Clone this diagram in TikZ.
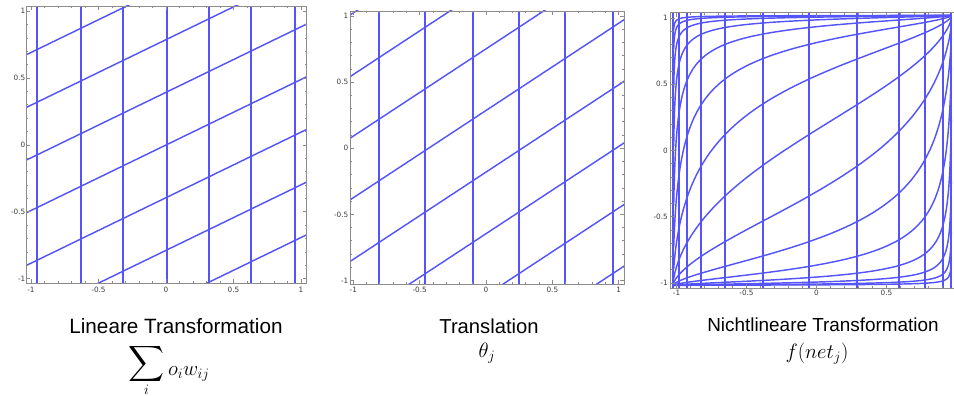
\documentclass[tikz,border=0pt]{standalone}
\usepackage{graphicx}
\usepackage{fontspec}
\setmainfont{Liberation Sans}
\newfontfamily\tickfont{DejaVu Sans}
\definecolor{lineblue}{RGB}{84,84,250}
\definecolor{framegray}{RGB}{140,140,140}
\definecolor{ticktext}{RGB}{60,60,60}
\tikzset{
  gl/.style={draw=lineblue,line width=1.45pt},
  vl/.style={draw=lineblue,line width=1.9pt},
  fr/.style={draw=framegray,line width=0.8pt},
  ticklbl/.style={font=\tickfont\fontsize{7.3}{8}\selectfont,text=ticktext,inner sep=0pt},
  caption/.style={font=\fontsize{20}{24}\selectfont,inner sep=0pt,anchor=base},
}
% frame with inward ticks: left,right,top,bottom, x0,xs, y0,ys
\newcommand\myframe[8]{%
  \draw[fr] (#1,#3) rectangle (#2,#4);
  \foreach \i in {-10,...,10}{%
    \draw[fr] ({#5+#6*\i/10},#4) -- ++(0,-2);
    \draw[fr] ({#5+#6*\i/10},#3) -- ++(0,2);
    \draw[fr] (#1,{#7-#8*\i/10}) -- ++(2,0);
    \draw[fr] (#2,{#7-#8*\i/10}) -- ++(-2,0);
  }%
  \foreach \i in {-2,...,2}{%
    \draw[fr] ({#5+#6*\i/2},#4) -- ++(0,-4);
    \draw[fr] ({#5+#6*\i/2},#3) -- ++(0,4);
    \draw[fr] (#1,{#7-#8*\i/2}) -- ++(4,0);
    \draw[fr] (#2,{#7-#8*\i/2}) -- ++(-4,0);
  }%
}
\newcommand\bigsum{\mathop{\raisebox{6pt}{$\vcenter{\hbox{\scalebox{2.5}{$\displaystyle\sum$}}}$}}\limits}
\begin{document}
\begin{tikzpicture}[x=1pt,y=-1pt]
\useasboundingbox (0,0) rectangle (954,396);

% ---------- plot 1: linear transformation ----------
\begin{scope}
  \clip (26,6) rectangle (306.7,283.3);
  \foreach \X in {37,81,123,167,209,251,295}
    \draw[vl] (\X,6) -- (\X,283.3);
  \foreach \j in {-3,...,3}
    \draw[gl] (26,{145-133.7*(0.49*(-140)/135+0.394*\j)}) -- (307,{145-133.7*(0.49*141/135+0.394*\j)});
\end{scope}
\myframe{26}{306.7}{6}{283.3}{166}{135}{145}{133.7}
\foreach \v/\t [count=\n] in {-1/-1,-0.5/-0.5,0/0,0.5/0.5,1/1}{
  \node[ticklbl] (pax\n) at ({166+135*\v},290) {\t};
  \node[ticklbl,anchor=east] (pay\n) at (25.5,{145-133.7*\v}) {\t};
}

% ---------- plot 2: translation ----------
\begin{scope}
  \clip (350,11) rectangle (624,284);
  \foreach \X in {379,425,473,519,565,613}
    \draw[vl] (\X,11) -- (\X,284);
  \foreach \j in {-4,...,3}
    \draw[gl] (349,{148.3-132.2*(0.66*(-137)/132.7+0.286+0.466*\j)}) -- (625,{148.3-132.2*(0.66*139/132.7+0.286+0.466*\j)});
\end{scope}
\myframe{350}{624}{11}{284}{486}{132.7}{148.3}{132.2}
\foreach \v/\t [count=\n] in {-1/-1,-0.5/-0.5,0/0,0.5/0.5,1/1}{
  \node[ticklbl] (pbx\n) at ({486+132.7*\v},290) {\t};
  \node[ticklbl,anchor=east] (pby\n) at (348.5,{148.3-132.2*\v}) {\t};
}

% ---------- plot 3: nonlinear transformation ----------
\begin{scope}
  \clip (0,0) rectangle (954,396);
  \begin{scope}
    \clip (670.7,12.7) rectangle (954,288);
    \foreach \X in {673,679,687,701,725,763,809,857,899,925,943,951}
      \draw[vl] (\X,12.7) -- (\X,288);
    \foreach \j in {-7,...,7}
      \draw[gl] plot[domain=-3:3,samples=120,smooth,variable=\u]
        ({812.5+139.5*tanh(\u)},{150.35-135*tanh(0.66*\u+0.134+0.47*\j)});
  \end{scope}
  \myframe{670.7}{962}{12.7}{288}{816.5}{140}{150.5}{132.5}
\end{scope}
\foreach \v/\t [count=\n] in {-1/-1,-0.5/-0.5,0/0,0.5/0.5}{
  \node[ticklbl] (pcx\n) at ({816.5+140*\v},293.3) {\t};
}
\foreach \v/\t [count=\n] in {-1/-1,-0.5/-0.5,0/0,0.5/0.5,1/1}{
  \node[ticklbl,anchor=east] (pcy\n) at (668,{150.5-132.5*\v}) {\t};
}

% ---------- captions ----------
\node[caption,font=\fontsize{20.7}{24}\selectfont] (cap1) at (176,333) {Lineare Transformation};
\node[caption,font=\fontsize{20.2}{24}\selectfont] (cap2) at (489,333) {Translation};
\node[caption,font=\fontsize{18.9}{24}\selectfont] (cap3) at (823,331) {Nichtlineare Transformation};
\node[caption] (form1) at (169,375) {$\bigsum_i o_i w_{ij}$};
\node[caption] (form2) at (487,357) {$\theta_j$};
\node[caption] (form3) at (817,358) {$f(net_j)$};
\end{tikzpicture}
\end{document}
